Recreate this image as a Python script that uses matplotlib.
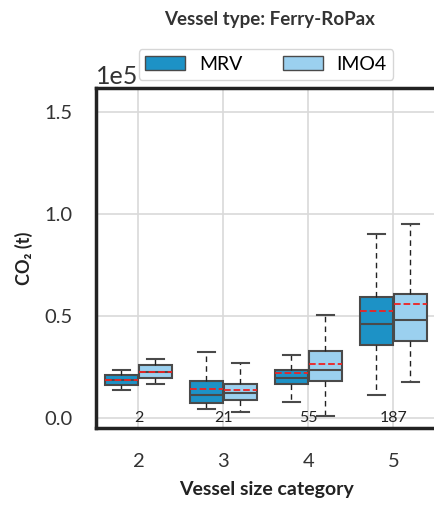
import matplotlib
matplotlib.use("Agg")
import matplotlib.pyplot as plt
from matplotlib.patches import Patch

plt.rcParams['font.family'] = ['Lato', 'DejaVu Sans']

categories = ["2", "3", "4", "5"]
counts = ["2", "21", "55", "187"]

# MRV stats (units 1e5 t)
mrv_whislo = [0.138, 0.043, 0.080, 0.110]
mrv_q1 = [0.162, 0.075, 0.165, 0.357]
mrv_med = [0.187, 0.110, 0.195, 0.461]
mrv_mean = [0.187, 0.144, 0.220, 0.523]
mrv_q3 = [0.211, 0.183, 0.233, 0.593]
mrv_whishi = [0.233, 0.324, 0.310, 0.905]

# IMO4 stats
imo_whislo = [0.167, 0.029, 0.007, 0.178]
imo_q1 = [0.195, 0.089, 0.183, 0.375]
imo_med = [0.226, 0.121, 0.236, 0.482]
imo_mean = [0.227, 0.138, 0.264, 0.559]
imo_q3 = [0.259, 0.165, 0.328, 0.610]
imo_whishi = [0.289, 0.270, 0.503, 0.950]

series = [
    ("MRV", "#1d92c6", mrv_whislo, mrv_q1, mrv_med, mrv_mean, mrv_q3, mrv_whishi, -0.2),
    ("IMO4", "#9bd0ef", imo_whislo, imo_q1, imo_med, imo_mean, imo_q3, imo_whishi, 0.2),
]

fig = plt.figure(figsize=(4.35, 5.08), dpi=100)
ax = fig.add_axes([96/435, 1-428/508, 340/435, 340/508])

edge = "#4a4a4a"
for name, color, wlo, q1, med, mean, q3, whi, off in series:
    stats = []
    for i in range(len(categories)):
        stats.append(dict(med=med[i]*1e5, q1=q1[i]*1e5, q3=q3[i]*1e5,
                          whislo=wlo[i]*1e5, whishi=whi[i]*1e5,
                          mean=mean[i]*1e5, fliers=[]))
    ax.bxp(stats, positions=[i+off for i in range(len(categories))], widths=0.39,
           patch_artist=True, showmeans=True, meanline=True, showfliers=False,
           boxprops=dict(facecolor=color, edgecolor=edge, linewidth=1.5),
           medianprops=dict(color=edge, linewidth=1.5),
           meanprops=dict(color="#ee2222", linestyle="--", linewidth=1.3),
           whiskerprops=dict(color="#222222", linestyle=(0, (4, 3)), linewidth=1.0),
           capprops=dict(color=edge, linewidth=1.5), zorder=3)

for i, c in enumerate(counts):
    ax.text(i, -0.002e5, c, ha="center", va="center", fontsize=11.5, color="#222222", zorder=4)

ax.set_xlim(-0.5, 3.5)
ax.set_ylim(-0.05e5, 1.62e5)
ax.set_xticks(range(len(categories)))
ax.set_xticklabels(categories)
ax.set_yticks([0, 0.5e5, 1.0e5, 1.5e5])
ax.ticklabel_format(axis='y', style='sci', scilimits=(0, 0))
ax.yaxis.get_offset_text().set_fontsize(18)
ax.grid(True, color="#d9d9d9", linewidth=1.2, zorder=0)
ax.set_axisbelow(True)
for s in ax.spines.values():
    s.set_linewidth(2.5)
    s.set_color("#222222")
ax.tick_params(axis='x', length=0, pad=18, labelsize=14.5, colors="#333333")
ax.tick_params(axis='y', length=0, pad=17, labelsize=14.5, colors="#333333")
ax.set_xlabel("Vessel size category", fontsize=14, fontweight="bold", labelpad=8, color="#222222")
ax.set_ylabel("CO₂ (t)", fontsize=13, fontweight="bold", labelpad=8, color="#222222")

handles = [Patch(facecolor=s[1], edgecolor=edge, linewidth=1.0, label=s[0]) for s in series]
ax.legend(handles=handles, ncol=2, loc="lower center", bbox_to_anchor=(0.5, 1.024),
          fontsize=14, handlelength=2.05, columnspacing=2.1, handletextpad=0.7,
          borderpad=0.35, frameon=True, edgecolor="#cccccc", borderaxespad=0)
fig.text(270/435, 1-20/508, "Vessel type: Ferry-RoPax", ha="center", va="center",
         fontsize=13.5, fontweight="bold", color="#333333")

fig.savefig("out.png", dpi=100)
